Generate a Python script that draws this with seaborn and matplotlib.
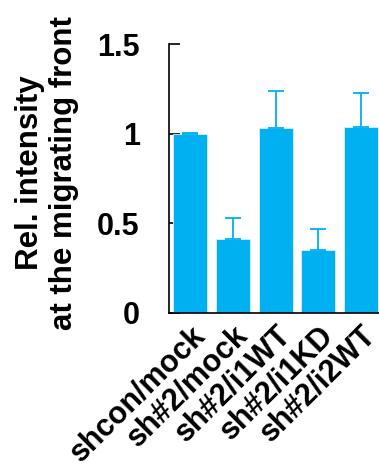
import matplotlib
matplotlib.use("Agg")
import matplotlib.pyplot as plt
import seaborn as sns
import numpy as np

groups = ["shcon/mock", "sh#2/mock", "sh#2/i1WT", "sh#2/i1KD", "sh#2/i2WT"]
rel_intensity = [1.0, 0.41, 1.03, 0.35, 1.035]
err_upper = [0.004, 0.12, 0.21, 0.12, 0.19]
yticks = [0, 0.5, 1, 1.5]
ytick_labels = ["0", "0.5", "1", "1.5"]

sns.set_style("ticks")
plt.rcParams['font.family'] = ['Liberation Sans', 'DejaVu Sans']
plt.rcParams['font.weight'] = 'bold'
plt.rcParams['text.color'] = 'black'
plt.rcParams['axes.labelcolor'] = 'black'
plt.rcParams['xtick.color'] = 'black'
plt.rcParams['ytick.color'] = 'black'
plt.rcParams['axes.edgecolor'] = 'black'

bar_color = "#00b0f0"

fig = plt.figure(figsize=(3.79, 4.65), dpi=100)
ax = fig.add_axes([0.446, 0.327, 0.554, 0.578])

sns.barplot(x=groups, y=rel_intensity, color=bar_color, saturation=1,
            width=0.795, edgecolor="#d8f3fc", linewidth=0.6, ax=ax)
ax.errorbar(np.arange(len(groups)), rel_intensity,
            yerr=[np.zeros(len(groups)), err_upper],
            fmt="none", ecolor=bar_color, elinewidth=1.3, capsize=5.5, capthick=1.3)

ax.set_xlim(-0.49, 4.42)
ax.set_ylim(0, 1.5)
ax.set_yticks(yticks)
ax.set_yticklabels(ytick_labels, fontsize=22, fontweight='bold', color='black')
ax.tick_params(axis='y', direction='in', length=8, width=1.2, pad=21)
ax.tick_params(axis='x', length=0, pad=5)
ax.set_xticks(range(len(groups)))
ax.set_xticklabels(groups, rotation=45, ha='right', rotation_mode='anchor',
                   fontsize=22, fontweight='bold', color='black')
ax.set_ylabel("Rel. intensity\nat the migrating front", fontsize=22.5,
              fontweight='bold', linespacing=1.15, color='black')
ax.yaxis.set_label_coords(-0.43, 0.52)

for side in ["top", "right"]:
    ax.spines[side].set_visible(False)
ax.spines["left"].set_linewidth(1.2)
ax.spines["bottom"].set_linewidth(1.2)

fig.savefig("out.png", dpi=100)
